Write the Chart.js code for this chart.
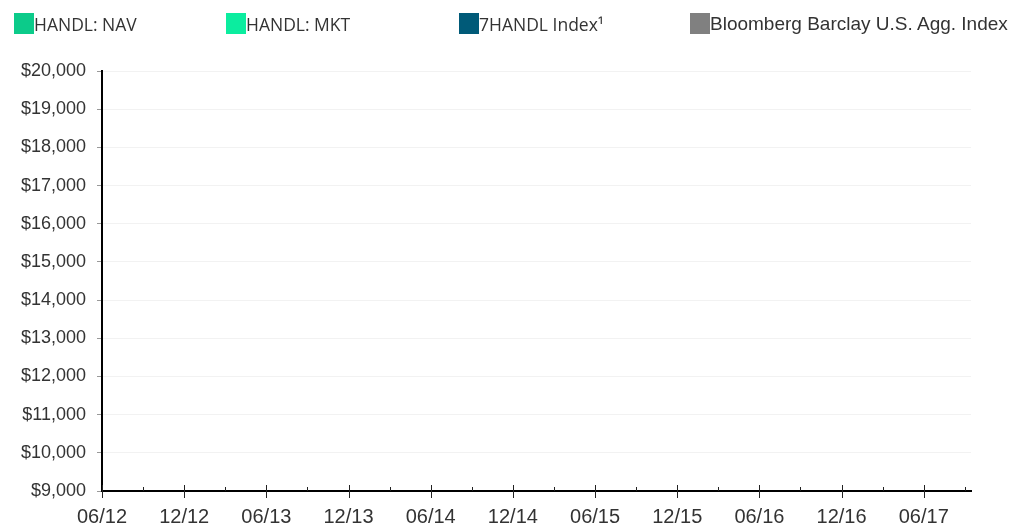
<!DOCTYPE html>
<html>
<head>
<meta charset="utf-8">
<script src="https://cdn.jsdelivr.net/npm/chart.js@4"></script>
<style>
  body { margin: 0; background: #fff; }
  #wrap { position: relative; width: 1026px; height: 527px; }
  #legend { position: absolute; top: 0; left: 0; width: 1026px; height: 40px; }
  .item { position: absolute; top: 13px; height: 21px; color: #333; white-space: nowrap; }
  .box { position: absolute; left: 0; top: 0; width: 20px; height: 21px; }
  .txt { position: absolute; left: 20px; line-height: 21px; }
</style>
</head>
<body>
<div id="wrap">
  <canvas id="growth_canvas" width="1026" height="527"></canvas>
  <div id="legend"></div>
</div>
<script>
// quarter-end labels, 06/12 through 09/17
const quarterLabels = ['06/12', '09/12', '12/12', '03/13', '06/13', '09/13', '12/13', '03/14',
    '06/14', '09/14', '12/14', '03/15', '06/15', '09/15', '12/15', '03/16',
    '06/16', '09/16', '12/16', '03/17', '06/17', '09/17'];

const seriesNames = ['HANDL: NAV', 'HANDL: MKT', '7HANDL Index\u00b9', 'Bloomberg Barclay U.S. Agg. Index'];
const seriesColors = ['#0ccb8a', '#0bed9f', '#005a78', '#808080'];

// growth of $10,000 - nothing plotted yet
const navValues = [];
const mktValues = [];
const indexValues = [];
const aggValues = [];

const yMin = 9000;
const yMax = 20000;
const yStep = 1000;

const allValues = [navValues, mktValues, indexValues, aggValues];

// tick marks on the date axis: long ones on labelled quarters, short ones between
const quarterTicks = {
    id: 'quarterTicks',
    afterDraw(chart) {
        const x = chart.scales.x;
        const ctx = chart.ctx;
        const base = chart.chartArea.bottom;
        ctx.save();
        ctx.strokeStyle = '#222';
        ctx.lineWidth = 1;
        for (let i = 0; i < quarterLabels.length; i++) {
            const px = Math.round(x.getPixelForValue(i)) + 0.5;
            ctx.beginPath();
            if (i % 2 === 0) {
                ctx.moveTo(px, base - 6);
                ctx.lineTo(px, base + 7);
            } else {
                ctx.moveTo(px, base - 4);
                ctx.lineTo(px, base);
            }
            ctx.stroke();
        }
        ctx.restore();
    }
};

const ctx = document.getElementById('growth_canvas');
const theChart = new Chart(ctx, {
    type: 'line',
    data: {
        datasets: seriesNames.map((name, i) => ({
            label: name,
            data: allValues[i],
            borderColor: seriesColors[i],
            backgroundColor: seriesColors[i],
            borderWidth: 2,
            pointRadius: 0,
            fill: false
        }))
    },
    options: {
        responsive: false,
        animation: false,
        layout: { padding: { top: 71, right: 55, bottom: 0, left: 0 } },
        plugins: {
            legend: { display: false },
            tooltip: { enabled: false }
        },
        scales: {
            x: {
                type: 'linear',
                min: 0,
                max: 21.15,
                afterFit: s => { s.height = 36; },
                grid: { display: false },
                border: { display: true, color: '#000', width: 2 },
                ticks: {
                    stepSize: 1,
                    includeBounds: false,
                    autoSkip: false,
                    maxRotation: 0,
                    padding: 6,
                    color: '#333',
                    font: { family: 'Liberation Sans', size: 20 },
                    callback: v => (v % 2 === 0 ? quarterLabels[v] : '')
                }
            },
            y: {
                min: yMin,
                max: yMax,
                afterFit: s => { s.width = 102; },
                grid: { color: '#f2f2f2', lineWidth: 1, tickColor: '#999', tickLength: 5 },
                border: { display: true, color: '#000', width: 2 },
                ticks: {
                    stepSize: yStep,
                    padding: 11,
                    color: '#333',
                    font: { family: 'Liberation Sans', size: 18 },
                    callback: v => '$' + v.toLocaleString('en-US')
                }
            }
        }
    },
    plugins: [quarterTicks]
});

// legend built from the datasets
const legendLeft = [14, 226, 459, 690];
const legendFonts = ['17.5px "Open Sans"', '17.5px "Open Sans"', '17.5px "Open Sans"', '19px "Liberation Sans"'];
const legendShift = [1, 1, 1, 0];
const legend = document.getElementById('legend');
theChart.data.datasets.forEach((ds, i) => {
    const item = document.createElement('div');
    item.className = 'item';
    item.style.left = legendLeft[i] + 'px';
    item.style.font = legendFonts[i];
    const box = document.createElement('span');
    box.className = 'box';
    box.style.background = ds.backgroundColor;
    const txt = document.createElement('span');
    txt.className = 'txt';
    txt.style.top = legendShift[i] + 'px';
    txt.textContent = ds.label;
    item.appendChild(box);
    item.appendChild(txt);
    legend.appendChild(item);
});
</script>
</body>
</html>
